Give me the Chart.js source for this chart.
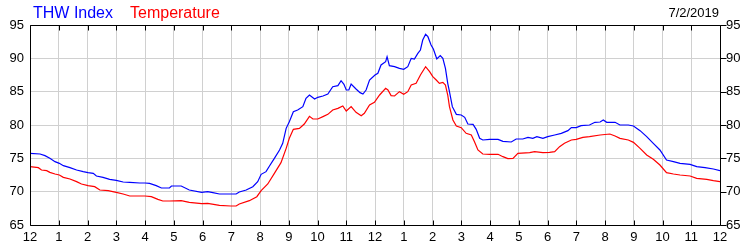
<!DOCTYPE html>
<html>
<head>
<meta charset="utf-8">
<script src="https://cdn.jsdelivr.net/npm/chart.js@4/dist/chart.umd.min.js"></script>
<style>
  html, body { margin: 0; padding: 0; background: #fff; }
  #wrap { width: 750px; height: 250px; position: relative; }
</style>
</head>
<body>
<div id="wrap"><canvas id="chart"></canvas></div>
<script>
// readings, hours since midnight
const thwHours = [0,0.35,0.52,0.69,0.87,1.02,1.16,1.39,1.62,1.85,2.02,2.2,2.31,2.54,2.77,3.0,3.24,3.47,3.82,4.0,4.16,4.39,4.57,4.85,4.92,5.26,5.54,5.97,6.18,6.36,6.59,6.98,7.17,7.28,7.52,7.75,7.92,8.04,8.21,8.33,8.5,8.68,8.79,8.91,9.02,9.16,9.31,9.49,9.6,9.72,9.9,10.01,10.19,10.36,10.53,10.71,10.82,10.92,11.0,11.09,11.17,11.34,11.48,11.58,11.69,11.81,12.0,12.1,12.21,12.37,12.42,12.5,12.68,12.85,13.0,13.14,13.26,13.37,13.49,13.58,13.66,13.76,13.84,13.95,14.03,14.15,14.27,14.36,14.45,14.53,14.59,14.69,14.83,15.0,15.12,15.23,15.41,15.52,15.64,15.75,15.99,16.28,16.45,16.74,16.91,17.14,17.32,17.49,17.63,17.84,18.01,18.25,18.48,18.71,18.83,19.0,19.17,19.46,19.65,19.83,19.94,20.06,20.35,20.52,20.81,20.99,21.22,21.45,21.68,21.91,22.14,22.38,22.61,22.96,23.19,23.48,23.77,24.0];
const thwValues = [75.75,75.65,75.4,75.0,74.5,74.25,73.9,73.6,73.25,73.0,72.85,72.75,72.35,72.15,71.85,71.7,71.45,71.4,71.3,71.3,71.25,70.9,70.55,70.55,70.85,70.85,70.25,69.9,70.0,69.85,69.65,69.65,69.65,69.95,70.25,70.75,71.5,72.6,73.0,73.85,75.0,76.25,77.25,79.5,80.5,82.0,82.25,82.75,84.0,84.5,83.9,84.15,84.35,84.65,85.75,85.9,86.65,86.1,85.25,85.25,86.15,85.4,84.85,84.65,85.25,86.75,87.5,87.75,89.0,89.5,90.25,88.9,88.75,88.5,88.35,88.75,90.0,89.9,90.75,91.25,92.75,93.6,93.25,92.0,91.4,89.9,90.4,90.0,88.5,86.25,85.0,82.75,81.6,81.5,81.15,80.15,80.1,79.35,78.0,77.75,77.85,77.85,77.55,77.45,77.9,77.9,78.15,78.0,78.25,78.0,78.25,78.5,78.75,79.15,79.6,79.6,79.9,80.0,80.4,80.45,80.75,80.4,80.4,80.0,80.0,79.85,79.15,78.25,77.25,76.25,74.75,74.5,74.25,74.1,73.75,73.6,73.4,73.15];

const tempHours = [0,0.29,0.4,0.58,0.69,0.87,1.02,1.16,1.39,1.62,1.79,2.02,2.25,2.43,2.72,3.0,3.24,3.47,4.0,4.22,4.45,4.62,4.85,5.26,5.54,5.97,6.18,6.59,6.98,7.17,7.28,7.63,7.89,8.04,8.27,8.5,8.73,8.91,9.02,9.16,9.37,9.54,9.72,9.84,10.01,10.19,10.36,10.53,10.71,10.88,11.0,11.17,11.34,11.52,11.63,11.81,11.98,12.16,12.37,12.45,12.56,12.68,12.85,13.0,13.14,13.26,13.43,13.58,13.76,13.9,14.01,14.13,14.24,14.36,14.45,14.53,14.59,14.71,14.83,15.0,15.17,15.35,15.46,15.58,15.75,15.99,16.28,16.45,16.62,16.8,16.97,17.38,17.55,17.84,18.07,18.25,18.42,18.59,18.83,19.0,19.23,19.46,19.83,20.17,20.35,20.52,20.81,20.99,21.22,21.45,21.68,21.91,22.14,22.38,22.61,22.96,23.19,23.54,23.77,24.0];
const tempValues = [73.75,73.6,73.25,73.15,72.9,72.65,72.5,72.15,71.9,71.5,71.15,70.9,70.75,70.25,70.15,69.9,69.65,69.35,69.35,69.25,68.85,68.6,68.6,68.65,68.4,68.2,68.25,67.95,67.85,67.85,68.15,68.65,69.25,70.15,71.15,72.75,74.35,76.5,78.0,79.35,79.5,80.15,81.3,80.9,80.9,81.25,81.6,82.25,82.5,82.85,82.1,82.75,81.9,81.4,81.75,83.0,83.4,84.5,85.5,85.25,84.4,84.35,85.0,84.6,85.0,86.0,86.25,87.5,88.75,88.0,87.25,86.75,86.25,86.4,86.0,84.5,82.75,80.75,79.85,79.6,78.75,78.5,77.5,76.25,75.65,75.6,75.6,75.25,74.95,75.0,75.75,75.85,76.0,75.85,75.9,76.0,76.75,77.25,77.75,77.85,78.15,78.25,78.5,78.65,78.35,78.0,77.75,77.4,76.5,75.5,74.85,74.0,72.85,72.65,72.5,72.35,72.0,71.85,71.65,71.5];

const hourTicks = [0,1,2,3,4,5,6,7,8,9,10,11,12,13,14,15,16,17,18,19,20,21,22,23,24];
const yTicks = [65,70,75,80,85,90,95];
const dateLabel = '7/2/2019';

const FONT = 'Arial, "Liberation Sans", sans-serif';

function hourLabel(h) { return String(((h + 11) % 12) + 1); }

// frame, inner tick marks and the header text
const frame = {
  id: 'frame',
  afterDraw(chart) {
    const { ctx, chartArea: a } = chart;
    const xs = chart.scales.x, ys = chart.scales.y;
    ctx.save();
    ctx.strokeStyle = '#000';
    ctx.lineWidth = 1;
    ctx.beginPath();
    const L = Math.round(a.left) + 0.5, R = Math.round(a.right) + 0.5;
    const T = Math.round(a.top) + 0.5, B = Math.round(a.bottom) + 0.5;
    ctx.moveTo(L, T); ctx.lineTo(R, T); ctx.lineTo(R, B); ctx.lineTo(L, B); ctx.closePath();
    for (const h of hourTicks) {
      const x = Math.round(xs.getPixelForValue(h)) + 0.5;
      ctx.moveTo(x, T); ctx.lineTo(x, T + 5);
      ctx.moveTo(x, B); ctx.lineTo(x, B - 5);
    }
    for (const v of yTicks) {
      const y = Math.round(ys.getPixelForValue(v)) + 0.5;
      ctx.moveTo(R, y); ctx.lineTo(R + 6, y);
    }
    ctx.stroke();

    ctx.textBaseline = 'alphabetic';
    ctx.font = '16px ' + FONT;
    ctx.textAlign = 'left';
    ctx.fillStyle = '#0000ff';
    ctx.fillText('THW Index', 33, 18);
    ctx.fillStyle = '#ff0000';
    ctx.fillText('Temperature', 130, 18);
    ctx.font = '13px ' + FONT;
    ctx.fillStyle = '#000';
    ctx.textAlign = 'right';
    ctx.fillText(dateLabel, 719, 17);
    ctx.restore();
  }
};

const yScale = (pos) => ({
  position: pos,
  min: 65, max: 95,
  afterBuildTicks: s => { s.ticks = yTicks.map(v => ({ value: v })); },
  afterFit: s => { s.width = 30; },
  ticks: { color: '#000', font: { family: FONT, size: 13 }, padding: 6 },
  grid: { display: pos === 'left', color: '#d0d0d0', drawTicks: false },
  border: { display: false }
});

new Chart(document.getElementById('chart'), {
  type: 'line',
  data: {
    datasets: [
      {
        label: 'THW Index',
        data: thwHours.map((h, i) => ({ x: h, y: thwValues[i] })),
        borderColor: '#0000ff', borderWidth: 1.2, pointRadius: 0, tension: 0, yAxisID: 'y'
      },
      {
        label: 'Temperature',
        data: tempHours.map((h, i) => ({ x: h, y: tempValues[i] })),
        borderColor: '#ff0000', borderWidth: 1.2, pointRadius: 0, tension: 0, yAxisID: 'y'
      }
    ]
  },
  options: {
    responsive: true,
    maintainAspectRatio: false,
    animation: false,
    layout: { padding: { top: 25, left: 0, right: 0, bottom: 0 } },
    plugins: { legend: { display: false }, tooltip: { enabled: false } },
    scales: {
      x: {
        type: 'linear', min: 0, max: 24,
        afterBuildTicks: s => { s.ticks = hourTicks.map(v => ({ value: v })); },
        afterFit: s => { s.height = 25; },
        ticks: { color: '#000', font: { family: FONT, size: 13 }, padding: 5, maxRotation: 0, autoSkip: false, callback: v => hourLabel(v) },
        grid: { color: '#d0d0d0', drawTicks: false },
        border: { display: false }
      },
      y: yScale('left'),
      y2: yScale('right')
    }
  },
  plugins: [frame]
});
</script>
</body>
</html>
